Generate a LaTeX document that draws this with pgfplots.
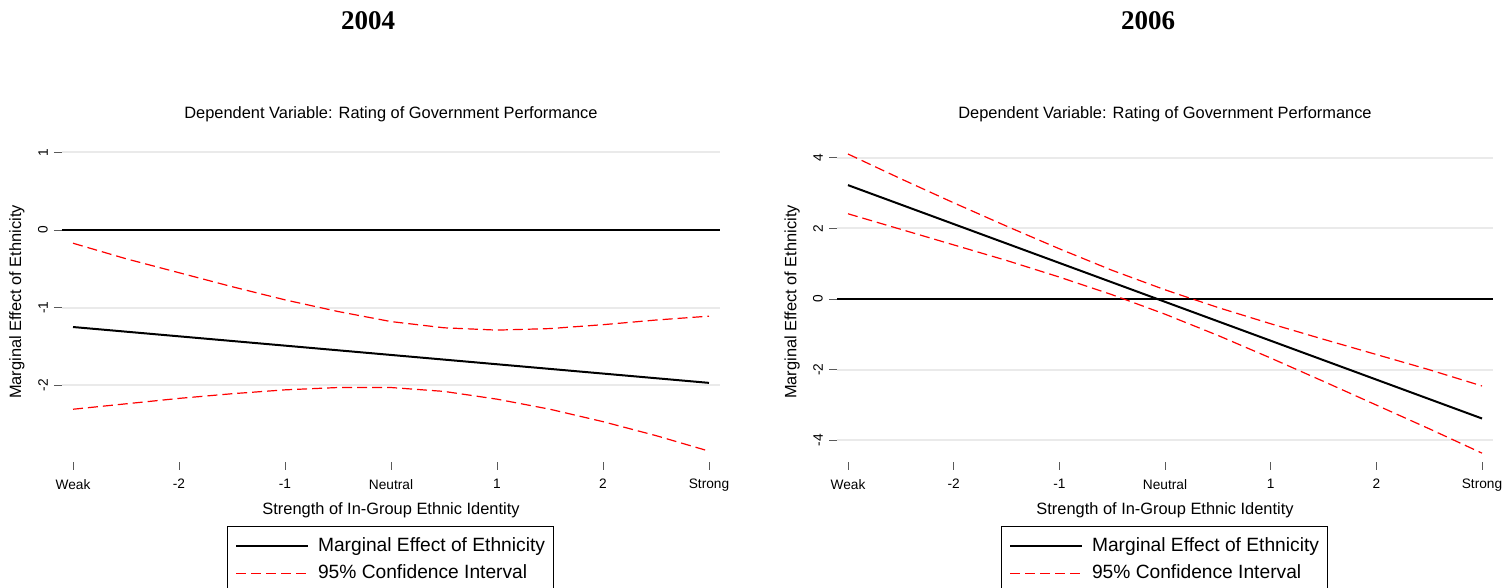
\documentclass[border=0pt]{standalone}
\usepackage{fontspec}
\setmainfont{Liberation Sans}
\newfontfamily\titlefont{Liberation Serif}
\usepackage{pgfplots}
\usepackage{pgfplotstable}
\pgfplotsset{compat=1.18}
\usetikzlibrary{calc}
\definecolor{gridgray}{RGB}{234,234,234}
\definecolor{cired}{RGB}{255,0,0}

\pgfplotstableread{
x me up lo
-3 -1.25 -0.17 -2.31
-2.5 -1.31 -0.37 -2.24
-2 -1.37 -0.55 -2.17
-1.5 -1.43 -0.73 -2.11
-1 -1.49 -0.90 -2.06
-0.5 -1.55 -1.05 -2.03
0 -1.61 -1.18 -2.03
0.5 -1.67 -1.26 -2.08
1 -1.73 -1.29 -2.18
1.5 -1.79 -1.27 -2.31
2 -1.85 -1.22 -2.47
2.5 -1.91 -1.16 -2.65
3 -1.97 -1.11 -2.85
}\leftdata

\pgfplotstableread{
x me up lo
-3 3.22 4.10 2.41
-2.5 2.67 3.40 1.97
-2 2.12 2.72 1.53
-1.5 1.57 2.06 1.09
-1 1.02 1.42 0.62
-0.5 0.47 0.81 0.12
0 -0.08 0.26 -0.43
0.5 -0.63 -0.24 -1.03
1 -1.18 -0.70 -1.67
1.5 -1.73 -1.14 -2.33
2 -2.28 -1.57 -3.00
2.5 -2.83 -2.00 -3.67
3 -3.38 -2.46 -4.36
}\rightdata

\pgfplotsset{panel/.style={
  scale only axis, height=320pt,
  xmin=-3.104, xmax=3.104,
  axis line style={draw=none},
  tick align=outside, tick pos=left, major tick length=8pt,
  tick style={black!65, line width=0.9pt},
  xtick={-3,-2,-1,0,1,2,3},
  xticklabels={Weak,-2,-1,Neutral,1,2,Strong},
  ymajorgrids, grid style={gridgray, line width=2pt},
  ticklabel style={font=\fontsize{13.7}{15}\selectfont},
  xticklabel style={anchor=north, inner sep=0pt},
  yticklabel style={rotate=90, anchor=south, inner sep=0pt},
  xticklabel shift=9pt, yticklabel shift=6pt,
  xlabel={Strength of In-Group Ethnic Identity},
  ylabel={Marginal Effect of Ethnicity},
  label style={font=\fontsize{16.4}{18}\selectfont},
  xlabel style={at={($(axis description cs:0.5,0)+(0pt,-48pt)$)}, anchor=center},
  ylabel style={at={($(axis description cs:0,0.5)+(-45pt,0pt)$)}, anchor=center},
  title={Dependent Variable: Rating of Government Performance},
  title style={at={($(axis description cs:0.5,1)+(0pt,22pt)$)}, anchor=center, font=\fontsize{16.4}{18}\selectfont},
  legend image code/.code={\draw[##1] (0pt,0pt) -- (72pt,0pt);},
  legend style={at={($(axis description cs:0.5,0)+(-1pt,-64pt)$)}, anchor=north,
    draw=black, line width=0.9pt, font=\fontsize{19.2}{21}\selectfont,
    inner xsep=8pt, inner ysep=11pt, row sep=9pt, column sep=9pt,
    cells={anchor=west},
    nodes={inner sep=0pt, text height=14pt, text depth=4pt}},
  legend cell align=left,
}}

\begin{document}
\begin{tikzpicture}
\useasboundingbox (0pt,0pt) rectangle (1503pt,588pt);
\node[font=\titlefont\bfseries\fontsize{27}{30}\selectfont] at (368pt,567pt) {2004};
\node[font=\titlefont\bfseries\fontsize{27}{30}\selectfont] at (1148pt,567pt) {2006};

\begin{axis}[panel, at={(62pt,126pt)}, anchor=south west, width=658pt,
  ymin=-2.99, ymax=1.135, ytick={-2,-1,0,1}, yticklabels={-2,-1,0,1}]
\addplot[black, line width=1.6pt, forget plot] coordinates {(-3.104,0) (3.104,0)};
\addplot[black, line width=2pt] table[x=x, y=me] {\leftdata};
\addlegendentry{Marginal Effect of Ethnicity}
\addplot[cired, line width=1.2pt, dash pattern=on 10pt off 5pt] table[x=x, y=up] {\leftdata};
\addlegendentry{95\% Confidence Interval}
\addplot[cired, line width=1.2pt, dash pattern=on 10pt off 5pt, forget plot] table[x=x, y=lo] {\leftdata};
\end{axis}

\begin{axis}[panel, at={(837pt,126pt)}, anchor=south west, width=656pt,
  ymin=-4.61, ymax=4.44, ytick={-4,-2,0,2,4}, yticklabels={-4,-2,0,2,4}]
\addplot[black, line width=1.6pt, forget plot] coordinates {(-3.104,0) (3.104,0)};
\addplot[black, line width=2pt] table[x=x, y=me] {\rightdata};
\addlegendentry{Marginal Effect of Ethnicity}
\addplot[cired, line width=1.2pt, dash pattern=on 10pt off 5pt] table[x=x, y=up] {\rightdata};
\addlegendentry{95\% Confidence Interval}
\addplot[cired, line width=1.2pt, dash pattern=on 10pt off 5pt, forget plot] table[x=x, y=lo] {\rightdata};
\end{axis}
\end{tikzpicture}
\end{document}
